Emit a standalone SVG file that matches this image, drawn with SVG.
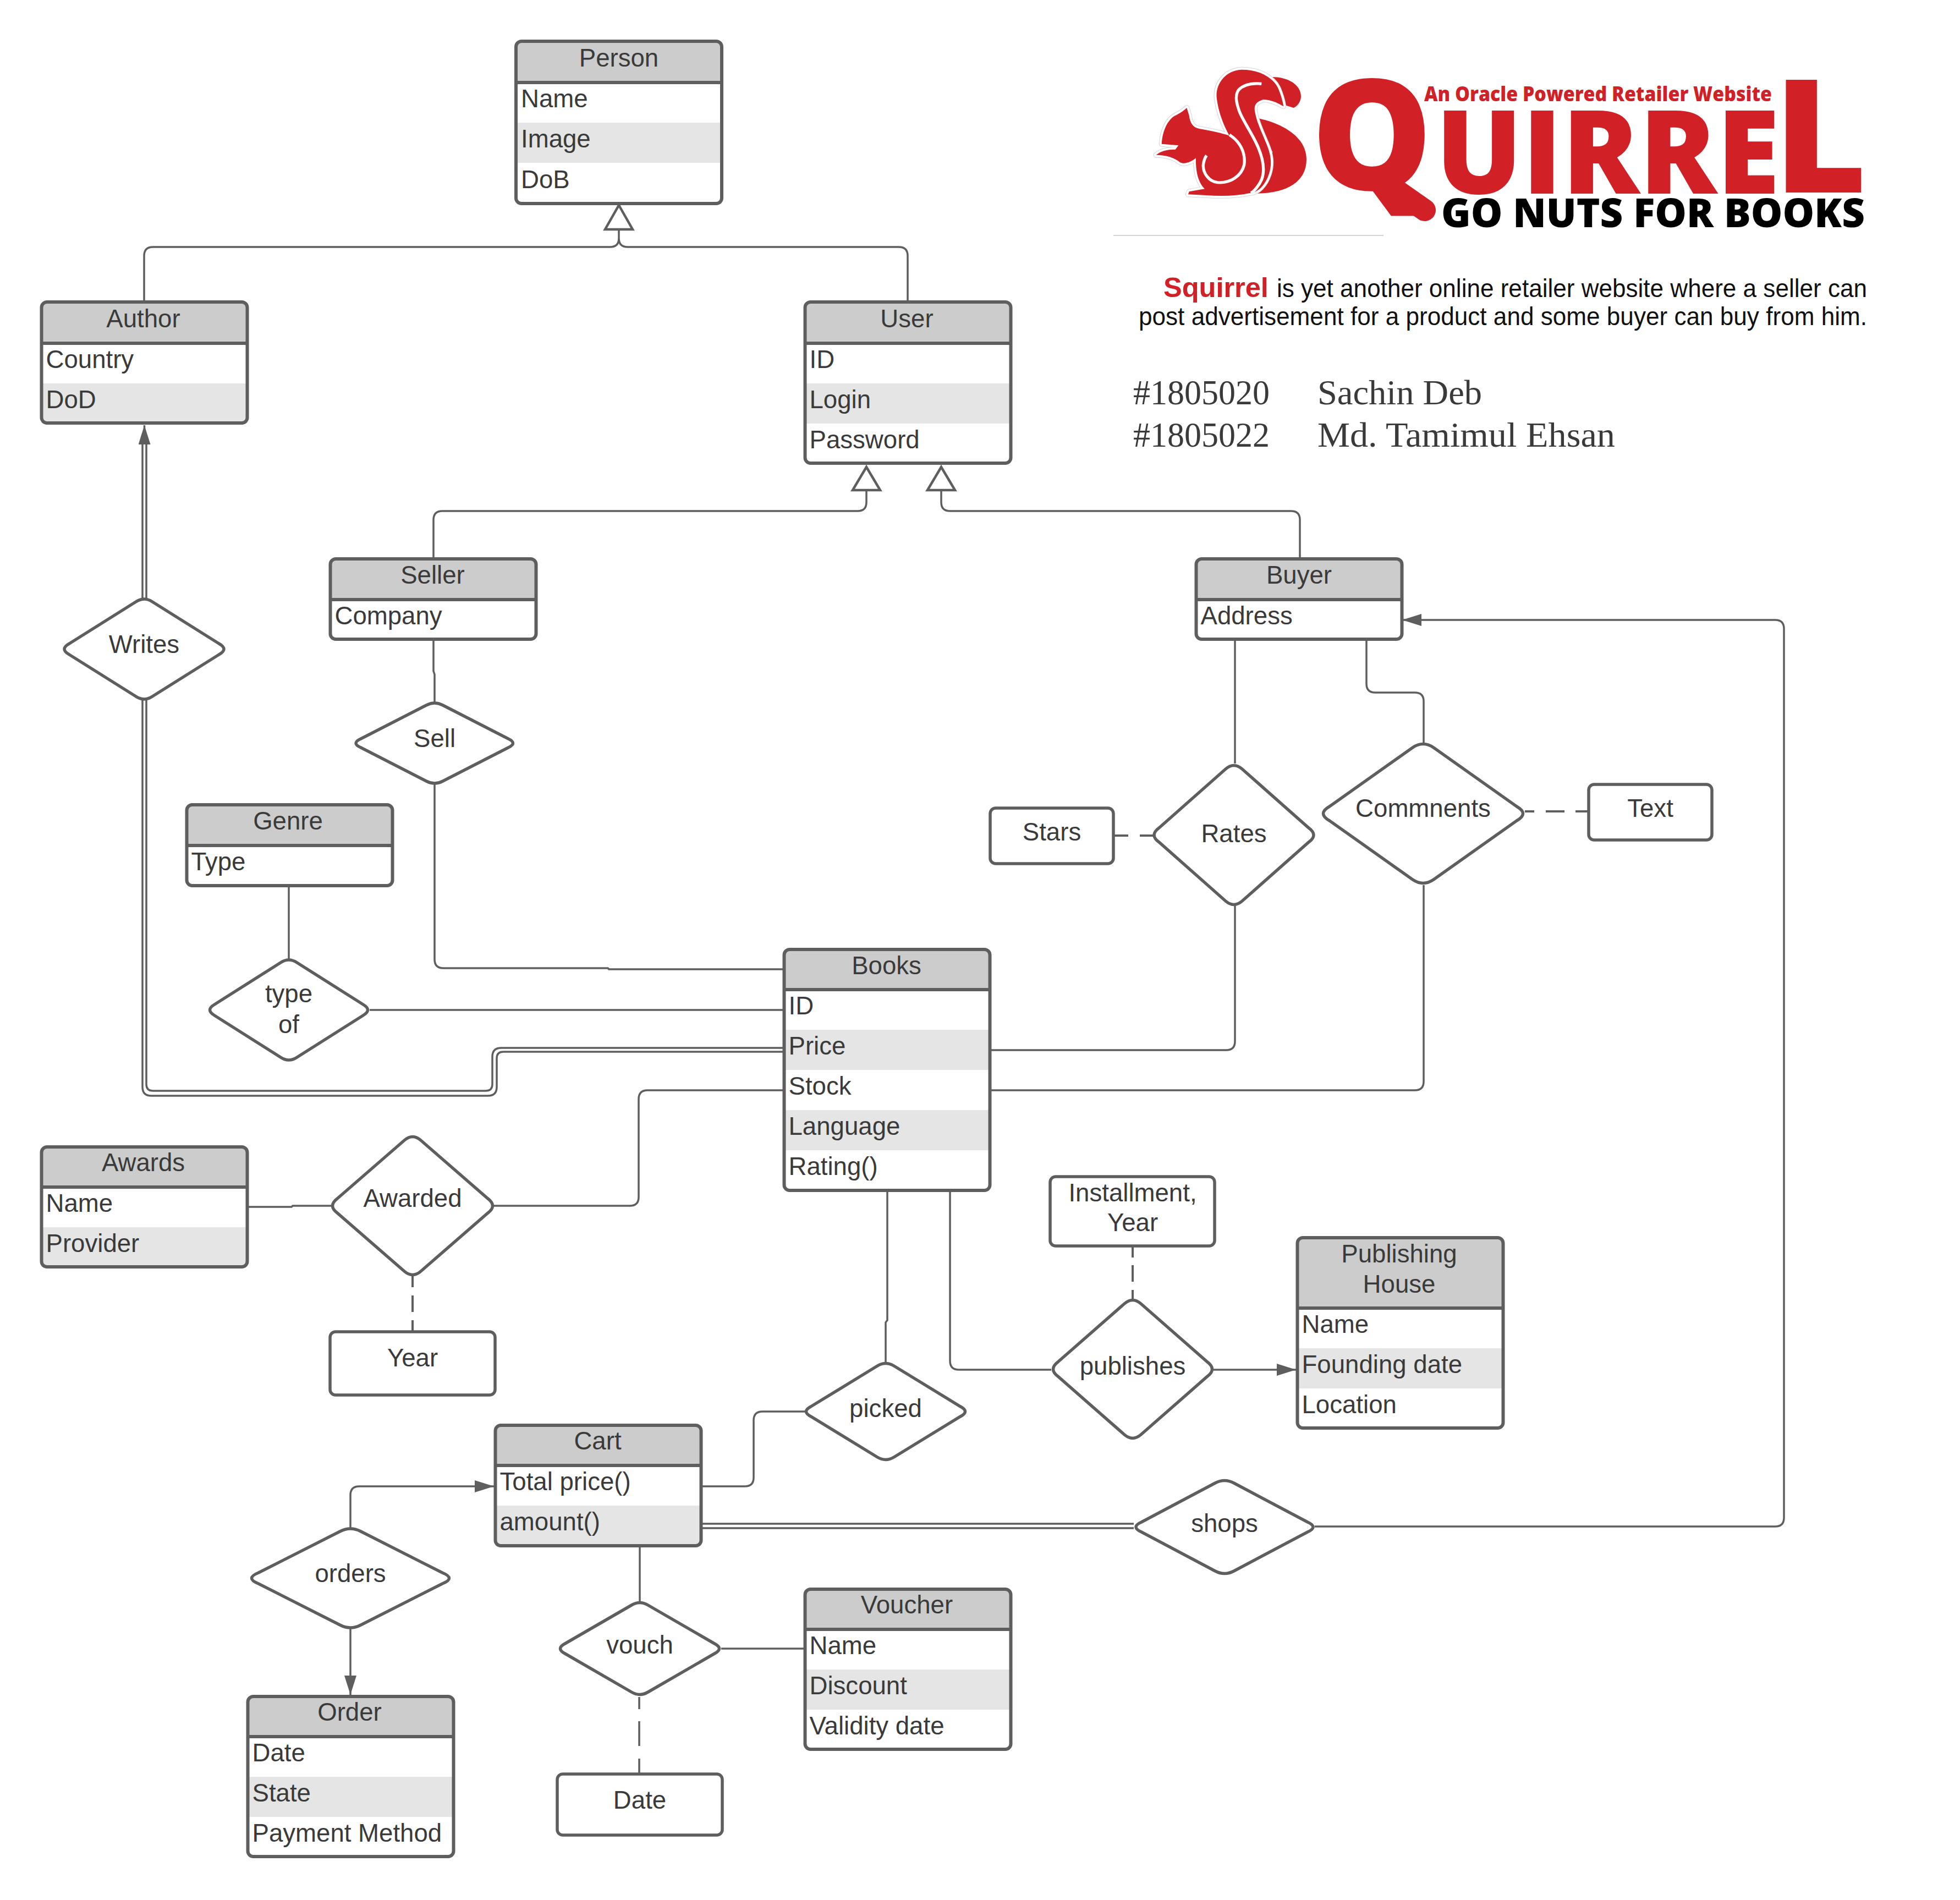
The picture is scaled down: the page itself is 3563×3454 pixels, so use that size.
<svg xmlns="http://www.w3.org/2000/svg" width="3563" height="3454" viewBox="0 0 3563 3454">
<style>
text{font-family:"Liberation Sans",Arial,sans-serif;font-size:45.6px;fill:#3a3a3a}
.c{text-anchor:middle}
.box{fill:#fff}
.hd{fill:#ccc}
.alt{fill:#e5e5e5}
.ol{fill:none;stroke:#5e5e5e;stroke-width:6}
.shape{fill:#fff;stroke:#5e5e5e;stroke-width:5.5}
.ln{fill:none;stroke:#5e5e5e;stroke-width:3.5}
.dash{stroke-width:4}
.tri{fill:#fff;stroke:#5e5e5e;stroke-width:4.5}
.sans{font-family:"Open Sans","Liberation Sans",sans-serif;font-weight:800;fill:#d12026}
.ser{font-family:"Liberation Serif",serif;font-size:63px;fill:#3a3a3a}
</style>
<defs>
<marker id="arr" markerUnits="userSpaceOnUse" markerWidth="35" markerHeight="22" refX="35" refY="11" orient="auto"><path d="M0,0 L35,11 L0,22 Z" fill="#5e5e5e"/></marker>
<path id="sq" d="M232,258 L245,300 C250,340 265,365 300,372 C370,385 420,395 465,410 C440,365 405,290 395,200 C390,130 440,55 530,50 C620,48 700,90 730,150 C745,185 755,220 760,250 C735,235 700,215 650,212 C610,225 595,245 605,285 C615,340 640,390 665,450 C690,510 700,560 680,620 C660,680 620,720 580,722 C500,740 420,740 340,735 L240,730 L245,715 L330,700 C300,670 280,620 282,532 C260,550 220,570 195,555 C165,530 120,515 65,515 C90,495 120,485 170,485 L187,463 L95,455 C100,380 130,320 170,300 C200,285 220,270 232,258 Z"/>
</defs>
<g id="connectors">
<path class="ln" d="M262,548 V465 Q262,449 278,449 H1109 Q1125,449 1125,433 V417 M1650,548 V465 Q1650,449 1634,449 H1141 Q1125,449 1125,433"/>
<path class="ln" d="M788,1016 V945 Q788,929 804,929 H1559 Q1575,929 1575,913 V891"/>
<path class="ln" d="M2363,1016 V945 Q2363,929 2347,929 H1727 Q1711,929 1711,913 V891"/>
<path class="ln" d="M259,1088 V806 M266,1088 V806"/>
<path class="ln" d="M259,1272 V1976 Q259,1992 275,1992 H887 Q903,1992 903,1976 V1924 Q903,1912 915,1912 H1425"/>
<path class="ln" d="M266,1272 V1971 Q266,1983 278,1983 H883 Q895,1983 895,1971 V1921 Q895,1905 911,1905 H1425"/>
<path class="ln" d="M262.5,808 V773" marker-end="url(#arr)"/>
<path class="ln" d="M788,1163 V1220 L790,1226 V1277"/>
<path class="ln" d="M790,1425 V1744 Q790,1760 806,1760 H1105 L1107,1762 H1425"/>
<path class="ln" d="M525,1611 V1744"/>
<path class="ln" d="M672,1836 H1425"/>
<path class="ln" d="M2245,1163 V1388"/>
<path class="ln" d="M2484,1163 V1243 Q2484,1259 2500,1259 H2572 Q2588,1259 2588,1275 V1350"/>
<path class="ln dash" stroke-dasharray="25 21 25 21" d="M2026,1519 H2097"/>
<path class="ln" d="M2245,1647 V1893 Q2245,1909 2229,1909 H1800"/>
<path class="ln" d="M2588,1609 V1966 Q2588,1982 2572,1982 H1800"/>
<path class="ln dash" stroke-dasharray="17 21 34 20 22 20" d="M2772,1475 H2886"/>
<path class="ln" d="M450,2194 H530 L532,2192 H602"/>
<path class="ln" d="M898,2192 H1145 Q1161,2192 1161,2176 V1998 Q1161,1982 1177,1982 H1425"/>
<path class="ln dash" stroke-dasharray="20 15 30 15 20 15" d="M750,2320 V2420"/>
<path class="ln" d="M1613,2165 V2400 L1610,2404 V2477"/>
<path class="ln" d="M1727,2165 V2474 Q1727,2490 1743,2490 H1911"/>
<path class="ln" d="M2206,2490 H2356" marker-end="url(#arr)"/>
<path class="ln dash" stroke-dasharray="21 14 30 15 17 15" d="M2059,2265 V2362"/>
<path class="ln" d="M1463,2566 H1386 Q1370,2566 1370,2582 V2686 Q1370,2702 1354,2702 H1275"/>
<path class="ln" d="M1275,2770 H2061 M1275,2778 H2061"/>
<path class="ln" d="M2390,2775 H3227 Q3243,2775 3243,2759 V1143 Q3243,1127 3227,1127 H2549" marker-end="url(#arr)"/>
<path class="ln" d="M637,2777 V2718 Q637,2702 653,2702 H898" marker-end="url(#arr)"/>
<path class="ln" d="M637,2961 V3081" marker-end="url(#arr)"/>
<path class="ln" d="M1163,2811 V2913"/>
<path class="ln" stroke-dasharray="22 22 45 23 27 23" d="M1162,3085 V3224"/>
<path class="ln" d="M1311,2997 H1463"/>
<path class="tri" d="M1125,373 L1150,417 H1100 Z"/>
<path class="tri" d="M1575,849 L1600,891 H1550 Z"/>
<path class="tri" d="M1711,849 L1736,891 H1686 Z"/>
</g>
<g id="person"><rect class="box" x="938" y="75" width="374" height="295" rx="10"/><path class="hd" d="M938,150 V85 Q938,75 948,75 H1302 Q1312,75 1312,85 V150 Z"/><rect class="alt" x="938" y="223" width="374" height="73"/><path class="ol" d="M938,150 H1312"/><rect class="ol" x="938" y="75" width="374" height="295" rx="10"/><text class="c" x="1125" y="121">Person</text><text x="947" y="195">Name</text><text x="947" y="268">Image</text><text x="947" y="342">DoB</text></g>
<g id="author" transform="translate(-1.5 -1)"><rect class="box" x="77" y="550" width="374" height="220" rx="10"/><path class="hd" d="M77,625 V560 Q77,550 87,550 H441 Q451,550 451,560 V625 Z"/><rect class="alt" x="77" y="698" width="374" height="72"/><path class="ol" d="M77,625 H451"/><rect class="ol" x="77" y="550" width="374" height="220" rx="10"/><text class="c" x="262" y="596">Author</text><text x="85" y="670">Country</text><text x="85" y="743">DoD</text></g>
<g id="user" transform="translate(-1.5 -1)"><rect class="box" x="1465" y="550" width="374" height="293" rx="10"/><path class="hd" d="M1465,625 V560 Q1465,550 1475,550 H1829 Q1839,550 1839,560 V625 Z"/><rect class="alt" x="1465" y="698" width="374" height="73"/><path class="ol" d="M1465,625 H1839"/><rect class="ol" x="1465" y="550" width="374" height="293" rx="10"/><text class="c" x="1650" y="596">User</text><text x="1473" y="670">ID</text><text x="1473" y="743">Login</text><text x="1473" y="816">Password</text></g>
<g id="seller" transform="translate(-1.5 -1)"><rect class="box" x="602" y="1017" width="374" height="146" rx="10"/><path class="hd" d="M602,1091 V1027 Q602,1017 612,1017 H966 Q976,1017 976,1027 V1091 Z"/><path class="ol" d="M602,1091 H976"/><rect class="ol" x="602" y="1017" width="374" height="146" rx="10"/><text class="c" x="788" y="1062">Seller</text><text x="610" y="1136">Company</text></g>
<g id="buyer" transform="translate(-1.5 -1)"><rect class="box" x="2176" y="1017" width="374" height="146" rx="10"/><path class="hd" d="M2176,1091 V1027 Q2176,1017 2186,1017 H2540 Q2550,1017 2550,1027 V1091 Z"/><path class="ol" d="M2176,1091 H2550"/><rect class="ol" x="2176" y="1017" width="374" height="146" rx="10"/><text class="c" x="2363" y="1062">Buyer</text><text x="2184" y="1136">Address</text></g>
<g id="genre" transform="translate(-1.5 -1)"><rect class="box" x="341" y="1464" width="374" height="147" rx="10"/><path class="hd" d="M341,1538 V1474 Q341,1464 351,1464 H705 Q715,1464 715,1474 V1538 Z"/><path class="ol" d="M341,1538 H715"/><rect class="ol" x="341" y="1464" width="374" height="147" rx="10"/><text class="c" x="525" y="1509">Genre</text><text x="349" y="1583">Type</text></g>
<g id="books" transform="translate(-1.5 -1)"><rect class="box" x="1427" y="1727" width="374" height="438" rx="10"/><path class="hd" d="M1427,1800 V1737 Q1427,1727 1437,1727 H1791 Q1801,1727 1801,1737 V1800 Z"/><rect class="alt" x="1427" y="1873" width="374" height="73"/><rect class="alt" x="1427" y="2019" width="374" height="73"/><path class="ol" d="M1427,1800 H1801"/><rect class="ol" x="1427" y="1727" width="374" height="438" rx="10"/><text class="c" x="1613" y="1772">Books</text><text x="1435" y="1845">ID</text><text x="1435" y="1918">Price</text><text x="1435" y="1991">Stock</text><text x="1435" y="2064">Language</text><text x="1435" y="2137">Rating()</text></g>
<g id="awards" transform="translate(-1.5 -1)"><rect class="box" x="77" y="2086" width="374" height="218" rx="10"/><path class="hd" d="M77,2159 V2096 Q77,2086 87,2086 H441 Q451,2086 451,2096 V2159 Z"/><rect class="alt" x="77" y="2232" width="374" height="72"/><path class="ol" d="M77,2159 H451"/><rect class="ol" x="77" y="2086" width="374" height="218" rx="10"/><text class="c" x="262" y="2130">Awards</text><text x="85" y="2204">Name</text><text x="85" y="2277">Provider</text></g>
<g id="publishing-house" transform="translate(-1.5 -1)"><rect class="box" x="2360" y="2251" width="374" height="346" rx="10"/><path class="hd" d="M2360,2379 V2261 Q2360,2251 2370,2251 H2724 Q2734,2251 2734,2261 V2379 Z"/><rect class="alt" x="2360" y="2452" width="374" height="73"/><path class="ol" d="M2360,2379 H2734"/><rect class="ol" x="2360" y="2251" width="374" height="346" rx="10"/><text class="c" x="2545" y="2296">Publishing</text><text class="c" x="2545" y="2351">House</text><text x="2368" y="2424">Name</text><text x="2368" y="2497">Founding date</text><text x="2368" y="2570">Location</text></g>
<g id="cart" transform="translate(-1.5 -1)"><rect class="box" x="902" y="2592" width="374" height="219" rx="10"/><path class="hd" d="M902,2665 V2602 Q902,2592 912,2592 H1266 Q1276,2592 1276,2602 V2665 Z"/><rect class="alt" x="902" y="2738" width="374" height="73"/><path class="ol" d="M902,2665 H1276"/><rect class="ol" x="902" y="2592" width="374" height="219" rx="10"/><text class="c" x="1088" y="2636">Cart</text><text x="910" y="2710">Total price()</text><text x="910" y="2783">amount()</text></g>
<g id="voucher" transform="translate(-1.5 -1)"><rect class="box" x="1465" y="2890" width="374" height="291" rx="10"/><path class="hd" d="M1465,2963 V2900 Q1465,2890 1475,2890 H1829 Q1839,2890 1839,2900 V2963 Z"/><rect class="alt" x="1465" y="3036" width="374" height="73"/><path class="ol" d="M1465,2963 H1839"/><rect class="ol" x="1465" y="2890" width="374" height="291" rx="10"/><text class="c" x="1650" y="2934">Voucher</text><text x="1473" y="3008">Name</text><text x="1473" y="3081">Discount</text><text x="1473" y="3154">Validity date</text></g>
<g id="order" transform="translate(-1.5 -1)"><rect class="box" x="452" y="3085" width="374" height="291" rx="10"/><path class="hd" d="M452,3158 V3095 Q452,3085 462,3085 H816 Q826,3085 826,3095 V3158 Z"/><rect class="alt" x="452" y="3231" width="374" height="73"/><path class="ol" d="M452,3158 H826"/><rect class="ol" x="452" y="3085" width="374" height="291" rx="10"/><text class="c" x="637" y="3129">Order</text><text x="460" y="3203">Date</text><text x="460" y="3276">State</text><text x="460" y="3349">Payment Method</text></g>
<g id="stars"><rect class="shape" x="1800" y="1469" width="224" height="101" rx="10"/><text class="c" x="1912" y="1528">Stars</text></g>
<g id="text-attr"><rect class="shape" x="2888" y="1426" width="224" height="101" rx="10"/><text class="c" x="3000" y="1485">Text</text></g>
<g id="installment"><rect class="shape" x="1909" y="2139" width="299" height="126" rx="10"/><text class="c" x="2059" y="2184">Installment,</text><text class="c" x="2059" y="2238">Year</text></g>
<g id="year"><rect class="shape" x="600" y="2421" width="300" height="115" rx="10"/><text class="c" x="750" y="2484">Year</text></g>
<g id="date"><rect class="shape" x="1013" y="3225" width="300" height="111" rx="10"/><text class="c" x="1163" y="3288">Date</text></g>
<g id="writes"><path class="shape" d="M126,1170 L247,1094 Q262,1084 277,1094 L398,1170 Q416,1180 398,1190 L277,1266 Q262,1276 247,1266 L126,1190 Q108,1180 126,1170 Z"/><text class="c" x="262" y="1187">Writes</text></g>
<g id="sell"><path class="shape" d="M656,1343 L775,1282 Q790,1274 805,1282 L924,1343 Q941,1351 924,1359 L805,1420 Q790,1428 775,1420 L656,1359 Q638,1351 656,1343 Z"/><text class="c" x="790" y="1358">Sell</text></g>
<g id="type-of"><path class="shape" d="M390,1826 L510,1750 Q525,1740 540,1750 L660,1826 Q677,1836 660,1846 L540,1922 Q525,1932 510,1922 L390,1846 Q373,1836 390,1826 Z"/><text class="c" x="525" y="1822">type</text><text class="c" x="525" y="1878">of</text></g>
<g id="rates"><path class="shape" d="M2107,1505 L2228,1398 Q2243,1385 2258,1398 L2379,1505 Q2397,1518 2379,1531 L2258,1638 Q2243,1651 2228,1638 L2107,1531 Q2089,1518 2107,1505 Z"/><text class="c" x="2243" y="1531">Rates</text></g>
<g id="comments"><path class="shape" d="M2417,1466 L2568,1359 Q2587,1346 2606,1359 L2757,1466 Q2780,1479 2757,1492 L2606,1599 Q2587,1612 2568,1599 L2417,1492 Q2394,1479 2417,1466 Z"/><text class="c" x="2587" y="1485">Commnents</text></g>
<g id="awarded"><path class="shape" d="M613,2179 L735,2073 Q750,2060 765,2073 L887,2179 Q904,2192 887,2205 L765,2311 Q750,2324 735,2311 L613,2205 Q596,2192 613,2179 Z"/><text class="c" x="750" y="2194">Awarded</text></g>
<g id="publishes"><path class="shape" d="M1923,2476 L2044,2370 Q2059,2357 2074,2370 L2195,2476 Q2212,2489 2195,2502 L2074,2608 Q2059,2621 2044,2608 L1923,2502 Q1906,2489 1923,2476 Z"/><text class="c" x="2059" y="2499">publishes</text></g>
<g id="picked"><path class="shape" d="M1474,2557 L1595,2483 Q1610,2474 1625,2483 L1746,2557 Q1763,2566 1746,2575 L1625,2649 Q1610,2658 1595,2649 L1474,2575 Q1457,2566 1474,2557 Z"/><text class="c" x="1610" y="2576">picked</text></g>
<g id="shops"><path class="shape" d="M2075,2767 L2209,2696 Q2226,2687 2243,2696 L2377,2767 Q2397,2776 2377,2785 L2243,2856 Q2226,2865 2209,2856 L2075,2785 Q2055,2776 2075,2767 Z"/><text class="c" x="2226" y="2785">shops</text></g>
<g id="orders"><path class="shape" d="M470,2859 L618,2784 Q637,2774 656,2784 L804,2859 Q829,2869 804,2879 L656,2954 Q637,2964 618,2954 L470,2879 Q445,2869 470,2859 Z"/><text class="c" x="637" y="2876">orders</text></g>
<g id="vouch"><path class="shape" d="M1027,2988 L1148,2918 Q1163,2909 1178,2918 L1299,2988 Q1316,2997 1299,3006 L1178,3076 Q1163,3085 1148,3076 L1027,3006 Q1010,2997 1027,2988 Z"/><text class="c" x="1163" y="3006">vouch</text></g>
<g id="logo">
<g transform="translate(2080 110) scale(.3333)">
<path fill="#d12026" d="M700,90 C780,90 855,130 855,195 C855,225 835,250 815,258 L740,235 Z M620,315 C720,335 885,400 885,540 C885,660 780,725 610,725 L640,680 L700,500 Z"/>
<use href="#sq" fill="none" stroke="#d5d5d5" stroke-width="30" stroke-linejoin="round"/>
<use href="#sq" fill="none" stroke="#fff" stroke-width="24" stroke-linejoin="round"/>
<use href="#sq" fill="#d12026"/>
<path fill="none" stroke="#fff" stroke-width="16" d="M640,127 C590,122 545,130 515,160 C495,190 500,225 520,280 C545,340 590,400 620,470 C650,540 660,600 640,650 C620,695 590,720 580,722"/>
<path fill="none" stroke="#fff" stroke-width="16" d="M465,405 C520,440 555,500 545,570 C530,630 470,670 400,665 C350,660 320,610 322,570 C325,545 335,525 340,518"/>
</g>
<text class="sans" x="2384" y="345" style="font-size:280px" textLength="220" lengthAdjust="spacingAndGlyphs">Q</text>
<path d="M2530,340 L2590,382" stroke="#d12026" stroke-width="40" stroke-linecap="round" fill="none"/>
<text class="sans" x="2610" y="352" style="font-size:211px" textLength="625" lengthAdjust="spacingAndGlyphs">UIRRE</text>
<text class="sans" x="3224" y="350" style="font-size:287px" textLength="170" lengthAdjust="spacingAndGlyphs">L</text>
<text class="sans" x="2589" y="184" style="font-size:37px" textLength="632" lengthAdjust="spacingAndGlyphs">An Oracle Powered Retailer Website</text>
<text class="sans" x="2620" y="413" style="font-size:73px;fill:#000" textLength="770" lengthAdjust="spacingAndGlyphs">GO NUTS FOR BOOKS</text>
<path d="M2024,428 H2515" stroke="#d5d5d5" stroke-width="2"/>
</g>
<g id="description">
<text x="2115" y="540" style="font-size:50.5px;font-weight:bold;fill:#d12026">Squirrel</text>
<text x="2321" y="540" style="fill:#111" textLength="1073" lengthAdjust="spacingAndGlyphs">is yet another online retailer website where a seller can</text>
<text x="2070" y="591" style="fill:#111" textLength="1324" lengthAdjust="spacingAndGlyphs">post advertisement for a product and some buyer can buy from him.</text>
</g>
<g id="authors">
<text class="ser" x="2060" y="735" textLength="248" lengthAdjust="spacingAndGlyphs">#1805020</text>
<text class="ser" x="2395" y="735" textLength="299" lengthAdjust="spacingAndGlyphs">Sachin Deb</text>
<text class="ser" x="2060" y="812" textLength="248" lengthAdjust="spacingAndGlyphs">#1805022</text>
<text class="ser" x="2395" y="812" textLength="541" lengthAdjust="spacingAndGlyphs">Md. Tamimul Ehsan</text>
</g>
</svg>
